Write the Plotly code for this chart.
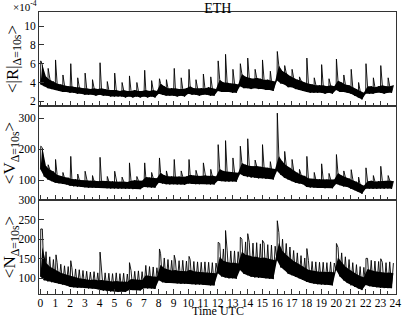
import numpy as np
import plotly.graph_objects as go
from plotly.subplots import make_subplots

# valores por bloco de 15 min (0h ate 23h45): faixa inferior / superior do ruido
hours = np.arange(0, 24, 0.25)

r_hi = [5.9, 4.6, 4.3, 4.1, 3.9, 3.8, 3.7, 3.6, 3.6, 3.5, 3.5, 3.4, 3.4, 3.3, 3.4, 3.3,
        3.4, 3.3, 3.2, 3.2, 3.2, 3.1, 3.2, 3.1, 3.1, 3.2, 3.1, 3.1, 3.2, 3.1, 3.2, 3.1,
        3.9, 3.6, 3.4, 3.4, 3.4, 3.3, 3.3, 3.4, 3.6, 3.4, 3.4, 3.4, 3.4, 3.5, 3.4, 3.3,
        4.3, 4.0, 4.0, 3.9, 3.9, 3.8, 4.9, 4.6, 4.5, 4.4, 4.5, 4.4, 4.3, 4.3, 4.2, 4.1,
        5.8, 5.2, 5.0, 4.7, 4.5, 4.3, 4.2, 4.0, 3.9, 3.8, 3.7, 3.7, 3.7, 3.6, 3.7, 3.6,
        4.2, 4.0, 3.8, 3.7, 3.5, 3.3, 3.1, 2.9, 3.6, 3.6, 3.5, 3.6, 3.7, 3.6, 3.6, 3.7]
r_lo = [3.8, 3.6, 3.4, 3.3, 3.2, 3.1, 3.0, 3.0, 2.9, 2.9, 2.8, 2.8, 2.7, 2.7, 2.7, 2.6,
        2.7, 2.6, 2.6, 2.5, 2.5, 2.5, 2.5, 2.4, 2.5, 2.4, 2.5, 2.4, 2.5, 2.4, 2.5, 2.4,
        2.8, 2.7, 2.6, 2.6, 2.6, 2.5, 2.6, 2.5, 2.8, 2.7, 2.7, 2.6, 2.7, 2.7, 2.6, 2.6,
        3.1, 3.0, 3.0, 3.0, 2.9, 2.9, 3.6, 3.4, 3.4, 3.3, 3.4, 3.3, 3.3, 3.2, 3.2, 3.1,
        4.2, 3.9, 3.8, 3.5, 3.5, 3.3, 3.2, 3.1, 3.0, 2.9, 2.9, 2.9, 2.9, 2.8, 2.9, 2.8,
        3.2, 3.0, 3.0, 2.9, 2.8, 2.6, 2.4, 2.2, 2.8, 2.8, 2.8, 2.9, 2.9, 2.8, 2.9, 2.9]
r_spike_t = [0.02, 0.52, 1.02, 1.52, 2.05, 2.52, 3.02, 3.52, 4.03, 4.52, 5.02, 5.52,
             6.02, 6.52, 7.05, 7.52, 8.05, 8.52, 9.05, 9.52, 10.05, 10.52, 11.02, 11.52,
             12.02, 12.52, 13.02, 13.52, 14.02, 14.52, 15.02, 15.55, 16.02, 16.52, 17.02,
             17.52, 18.02, 18.52, 19.02, 19.52, 20.02, 20.52, 21.02, 21.52, 22.02, 22.52,
             23.02, 23.52]
r_spike_v = [6.3, 5.5, 6.4, 4.8, 6.0, 4.5, 5.0, 4.3, 6.1, 4.1, 5.0, 4.0,
             4.7, 4.0, 5.3, 4.2, 4.4, 4.3, 5.5, 4.5, 5.4, 4.3, 4.9, 4.6,
             6.3, 7.0, 5.4, 6.0, 6.6, 5.4, 6.4, 5.2, 7.3, 5.8, 5.4,
             4.6, 6.6, 4.5, 5.9, 4.4, 6.5, 4.8, 5.4, 4.0, 6.0, 4.5,
             5.8, 4.5]

v_hi = [205, 145, 135, 128, 118, 113, 110, 108, 104, 103, 101, 100, 100, 98, 99, 97,
        98, 97, 96, 96, 96, 95, 96, 94, 98, 100, 99, 98, 110, 108, 107, 106,
        124, 116, 113, 112, 113, 112, 111, 112, 118, 115, 114, 114, 116, 114, 115, 112,
        136, 130, 128, 126, 126, 124, 156, 150, 147, 145, 146, 143, 142, 140, 139, 136,
        178, 160, 148, 140, 130, 124, 118, 114, 106, 104, 104, 103, 103, 102, 103, 102,
        123, 115, 110, 106, 100, 95, 88, 82, 97, 98, 96, 97, 98, 97, 99, 97]
v_lo = [135, 112, 102, 97, 92, 90, 88, 86, 82, 80, 79, 78, 77, 76, 76, 75,
        76, 75, 74, 73, 73, 72, 73, 72, 72, 71, 72, 71, 78, 77, 76, 76,
        92, 89, 87, 86, 87, 86, 86, 85, 89, 88, 87, 87, 88, 87, 86, 86,
        98, 97, 96, 95, 96, 95, 120, 114, 110, 108, 108, 106, 106, 104, 104, 102,
        130, 118, 108, 102, 97, 92, 89, 87, 78, 76, 76, 75, 75, 74, 75, 74,
        88, 84, 80, 78, 72, 68, 62, 56, 72, 73, 72, 72, 73, 72, 73, 72]
v_spike_t = r_spike_t
v_spike_v = [210, 150, 167, 125, 177, 120, 129, 115, 174, 112, 129, 110,
             156, 112, 156, 125, 172, 130, 167, 130, 167, 132, 156, 135,
             215, 228, 172, 210, 234, 165, 215, 160, 317, 193, 167,
             135, 177, 125, 153, 122, 183, 130, 134, 110, 140, 115,
             145, 115]

n_hi = [226, 168, 155, 148, 140, 136, 132, 130, 127, 124, 122, 120, 118, 116, 117, 114,
        116, 114, 113, 112, 114, 112, 113, 111, 120, 118, 119, 117, 133, 130, 129, 127,
        163, 152, 148, 146, 147, 145, 146, 144, 148, 143, 142, 141, 142, 141, 140, 139,
        189, 175, 172, 170, 170, 168, 200, 193, 192, 190, 191, 188, 190, 186, 185, 182,
        217, 200, 189, 180, 171, 165, 158, 152, 146, 143, 142, 141, 141, 140, 142, 139,
        179, 165, 155, 148, 140, 135, 130, 128, 151, 146, 144, 143, 141, 140, 142, 139]
# topo da parte preta solida (acima disso so os tracos finos do ruido)
n_core = [180, 140, 130, 124, 118, 114, 111, 108, 104, 102, 100, 99, 98, 96, 97, 95,
          96, 94, 93, 92, 93, 92, 92, 91, 98, 97, 97, 96, 108, 106, 105, 104,
          135, 126, 122, 120, 121, 119, 119, 118, 122, 118, 117, 116, 116, 115, 114, 113,
          155, 145, 142, 140, 140, 138, 168, 160, 158, 155, 155, 152, 153, 150, 149, 146,
          190, 170, 160, 152, 144, 139, 133, 128, 122, 120, 118, 117, 117, 116, 117, 115,
          153, 140, 130, 123, 116, 111, 106, 103, 124, 120, 118, 117, 115, 114, 115, 113]
n_lo = [104, 95, 92, 90, 88, 86, 84, 82, 78, 77, 76, 76, 75, 74, 74, 73,
        70, 68, 67, 66, 66, 65, 66, 65, 70, 70, 69, 69, 75, 74, 74, 73,
        95, 90, 88, 88, 88, 87, 86, 86, 86, 85, 84, 84, 83, 83, 82, 82,
        113, 105, 102, 100, 100, 99, 121, 112, 108, 104, 102, 101, 101, 100, 99, 98,
        146, 128, 121, 112, 108, 104, 100, 96, 91, 88, 86, 85, 84, 83, 83, 82,
        121, 105, 95, 88, 82, 78, 74, 70, 83, 80, 78, 77, 76, 75, 75, 75]
n_spike_t = [0.02, 1.05, 2.05, 4.03, 6.02, 8.05, 9.05, 10.05, 12.02, 12.52, 13.52,
             14.02, 15.02, 16.02, 18.02, 20.02, 22.02, 23.02]
n_spike_v = [226, 160, 145, 167, 140, 175, 159, 156, 192, 222, 205,
             214, 197, 247, 176, 189, 151, 150]

SERIF = "Liberation Serif"


def serie(lo, hi, sp_t, sp_v):
    # ruido: alterna minimo e maximo de cada bloco, e junta os picos
    pts = []
    for h, a, b in zip(hours, lo, hi):
        pts.append((h, a))
        pts.append((h + 0.125, b))
    pts += list(zip(sp_t, sp_v))
    pts.sort(key=lambda p: p[0])
    return [p[0] for p in pts], [p[1] for p in pts]


fig = make_subplots(rows=3, cols=1, shared_xaxes=True, vertical_spacing=0)

dados = [(r_lo, r_hi, r_hi, r_spike_t, r_spike_v),
         (v_lo, v_hi, v_hi, v_spike_t, v_spike_v),
         (n_lo, n_core, n_hi, n_spike_t, n_spike_v)]
for i, (lo, core, hi, st, sv) in enumerate(dados):
    # miolo preenchido da faixa
    bx = list(hours + 0.125) + list(hours[::-1])
    by = list(core) + list(lo[::-1])
    fig.add_trace(go.Scatter(x=bx, y=by, mode="lines", fill="toself", fillcolor="black",
                             line=dict(color="black", width=0), showlegend=False,
                             hoverinfo="skip"), row=i + 1, col=1)
    x, y = serie(lo, hi, st, sv)
    fig.add_trace(go.Scatter(x=x, y=y, mode="lines", line=dict(color="black", width=0.9),
                             showlegend=False), row=i + 1, col=1)

fonte = dict(family=SERIF, color="black")
eixo = dict(showline=True, linecolor="#333", linewidth=1, mirror=True, showgrid=False,
            zeroline=False, ticks="inside", tickcolor="#333", ticklen=5,
            tickfont=dict(size=11.5, **fonte))

for i in range(1, 4):
    fig.update_xaxes(range=[-0.1, 24.05], dtick=1, tick0=0,
                     minor=dict(dtick=0.5, ticks="inside", ticklen=3, tickcolor="#333"),
                     row=i, col=1, **eixo)
    fig.update_yaxes(row=i, col=1, **eixo)

fig.update_xaxes(showticklabels=True, ticklabelstandoff=-2, row=3, col=1)

titulo_y = dict(font=dict(size=17, **fonte), standoff=1)
fig.update_yaxes(range=[1.5, 11.5], tickvals=[2, 4, 6, 8, 10],
                 title=dict(text="&lt;|R|<sub>Δ=10s</sub>&gt;", **titulo_y), row=1, col=1)
fig.update_yaxes(range=[36, 340], tickvals=[100, 200, 300],
                 title=dict(text="&lt;V<sub>Δ=10s</sub>&gt;", **titulo_y), row=2, col=1)
fig.update_yaxes(range=[60, 300], tickvals=[100, 150, 200, 250, 300],
                 title=dict(text="&lt;N<sub>Δ=10s</sub>&gt;", **titulo_y), row=3, col=1)

fig.add_annotation(text="×10<sup>-4</sup>", xref="paper", yref="paper", x=0, y=1,
                   xanchor="right", yanchor="bottom", xshift=0, yshift=-3, showarrow=False,
                   font=dict(size=11, **fonte))
fig.add_annotation(text="Time UTC", xref="paper", yref="paper", x=0.5, y=0,
                   xanchor="center", yanchor="middle", yshift=-17, showarrow=False,
                   font=dict(size=12, **fonte))

fig.update_layout(
    width=407, height=317,
    margin=dict(l=34, r=6, t=11, b=23),
    paper_bgcolor="white", plot_bgcolor="white",
    font=dict(family=SERIF, color="black"),
    title=dict(text="ETH", x=0.535, xanchor="center", y=0.99, yanchor="top",
               font=dict(size=14, **fonte)),
)

# tira a margem padrao do <body> para o grafico ficar no canto da janela
fig.write_html("out.html", config={"displayModeBar": False},
               post_script="document.body.style.margin='0';")
